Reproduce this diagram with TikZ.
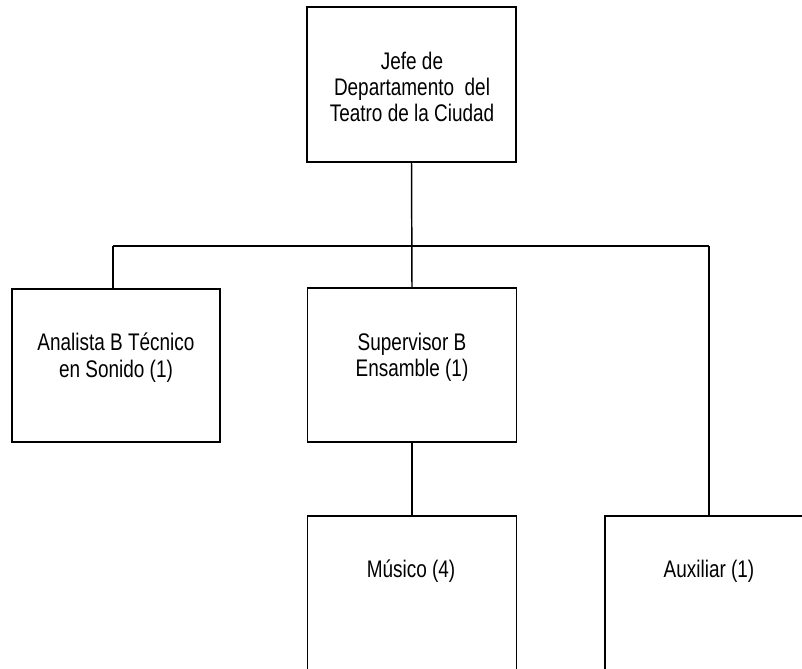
\documentclass[tikz,border=0pt]{standalone}
\usepackage{fontspec}
\setmainfont{Liberation Sans}[FakeStretch=0.79]
\begin{document}
\begin{tikzpicture}[x=0.75pt,y=-0.75pt,
  box/.style={draw=black, line width=1.1pt, rectangle, inner sep=0pt, outer sep=0pt},
  lbl/.style={align=center, inner sep=0pt, font=\fontsize{18pt}{19.6pt}\selectfont, anchor=base},
  conn/.style={draw=black, line width=1.1pt}]
\useasboundingbox (0,0) rectangle (802,668);
\clip (0,0) rectangle (802,668);
\node[box, minimum width=209*0.75pt, minimum height=155*0.75pt] (jefe) at (411.5,84.5) {};
\node[box, minimum width=208*0.75pt, minimum height=153*0.75pt] (analista) at (116,365.5) {};
\node[box, minimum width=209*0.75pt, minimum height=154*0.75pt] (super) at (412,365) {};
\node[box, minimum width=209*0.75pt, minimum height=160*0.75pt] (musico) at (412,596) {};
\node[box, minimum width=208*0.75pt, minimum height=160*0.75pt] (aux) at (709,596) {};
\node[lbl] (tjefe) at (412,121.7) {Jefe de\\Departamento\ \ del\\Teatro de la Ciudad};
\node[lbl] (tanalista) at (116,377) {Analista B Técnico\\en Sonido (1)};
\node[lbl] (tsuper) at (412,376.7) {Supervisor B\\Ensamble (1)};
\node[lbl] (tmusico) at (411,577) {Músico (4)};
\node[lbl] (taux) at (709,577) {Auxiliar (1)};
\coordinate (busL) at (113,246);
\coordinate (busR) at (709,246);
\draw[conn] (jefe.south) -- (super.north);
\draw[conn] (busL) -- (busR);
\draw[conn] (busL) -- (busL |- analista.north);
\draw[conn] (busR) -- (busR |- aux.north);
\draw[conn] (super.south) -- (musico.north);
\end{tikzpicture}
\end{document}
